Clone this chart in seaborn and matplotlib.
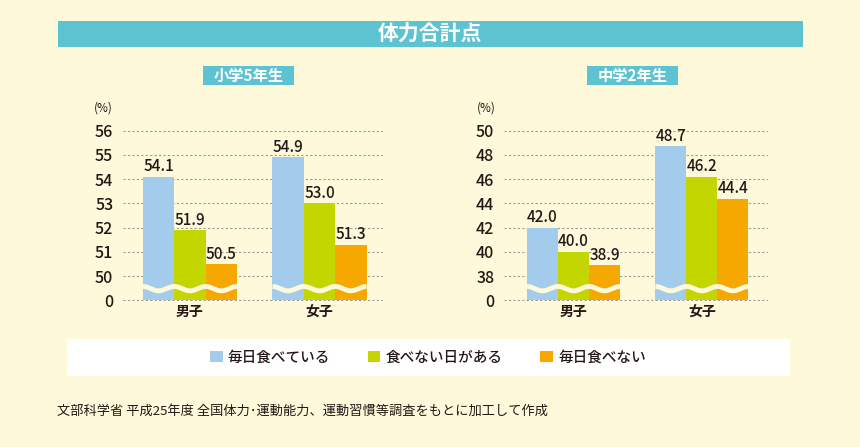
import numpy as np
import pandas as pd
import matplotlib
matplotlib.use("Agg")
import matplotlib.pyplot as plt
import seaborn as sns
from matplotlib.patches import Rectangle, Patch

# data
sexes = ['男子', '女子']
habits = ['毎日食べている', '食べない日がある', '毎日食べない']
colors = ['#A3CCEC', '#C4D600', '#F6A800']

elem_daily = [54.1, 54.9]
elem_some = [51.9, 53.0]
elem_never = [50.5, 51.3]
elem_ticks = [0, 50, 51, 52, 53, 54, 55, 56]

jhs_daily = [42.0, 48.7]
jhs_some = [40.0, 46.2]
jhs_never = [38.9, 44.4]
jhs_ticks = [0, 38, 40, 42, 44, 46, 48, 50]

bg = '#FFF9DB'
teal = '#5EC3D0'
ink = '#231815'

sns.set_theme(style='white')
plt.rcParams['font.family'] = ['Noto Sans CJK JP', 'DejaVu Sans']

fig = plt.figure(figsize=(8.6, 4.47), dpi=100, facecolor=bg)


def make_df(daily, some, never, ticks):
    rows = []
    for h, vals in zip(habits, [daily, some, never]):
        for s, v in zip(sexes, vals):
            # broken axis: every tick gets equal spacing
            pos = np.interp(v, ticks, np.arange(len(ticks)))
            rows.append({'sex': s, 'habit': h, 'value': v, 'pos': pos})
    return pd.DataFrame(rows)


def draw_panel(ax, df, ticks, xlim, width):
    ax.set_facecolor(bg)
    sns.barplot(data=df, x='sex', y='pos', hue='habit', order=sexes,
                hue_order=habits, palette=colors, width=width,
                saturation=1, linewidth=0, legend=False, ax=ax)
    for cont, h in zip(ax.containers, habits):
        labs = [f'{v:.1f}' for v in df[df.habit == h].set_index('sex').loc[sexes, 'value']]
        ax.bar_label(cont, labels=labs, padding=1, fontsize=11, color=ink,
                     fontweight='medium')
    ax.set_ylim(-0.03, 7.03)
    ax.set_xlim(*xlim)
    ax.set_yticks(range(len(ticks)))
    ax.set_yticklabels([str(t) for t in ticks])
    ax.grid(axis='y', ls=(0, (2, 2)), color='#9A9A9A', lw=0.8)
    ax.set_axisbelow(True)
    for sp in ax.spines.values():
        sp.set_visible(False)
    ax.tick_params(axis='y', length=0, pad=7, labelsize=11.5, labelcolor=ink)
    ax.tick_params(axis='x', length=0, pad=3, labelsize=10, labelcolor=ink)
    for lab in ax.get_xticklabels():
        lab.set_fontweight('bold')
    for lab in ax.get_yticklabels():
        lab.set_fontweight('medium')
    ax.set_xlabel('')
    ax.set_ylabel('')
    # white wavy break across each bar group
    for i in range(len(sexes)):
        ps = [p for p in ax.patches if abs(p.get_x() + p.get_width() / 2 - i) < 0.5]
        x0 = min(p.get_x() for p in ps)
        x1 = max(p.get_x() + p.get_width() for p in ps)
        xs = np.linspace(x0, x1, 300)
        ys = 0.48 + 0.09 * np.sin(2 * np.pi * 3 * (xs - x0) / (x1 - x0) + np.pi / 2)
        ax.plot(xs, ys, color=bg, lw=3.5, solid_capstyle='butt')


ax1 = fig.add_axes([123 / 860, 1 - 301 / 447, 260 / 860, 171 / 447])
draw_panel(ax1, make_df(elem_daily, elem_some, elem_never, elem_ticks),
           elem_ticks, (-0.517, 1.49), 0.726)

ax2 = fig.add_axes([504 / 860, 1 - 301 / 447, 264 / 860, 171 / 447])
draw_panel(ax2, make_df(jhs_daily, jhs_some, jhs_never, jhs_ticks),
           jhs_ticks, (-0.541, 1.514), 0.724)

# title bar
fig.add_artist(Rectangle((58 / 860, 1 - 47 / 447), 745 / 860, 26 / 447,
                         transform=fig.transFigure, color=teal, lw=0))
fig.text(430 / 860, 1 - 34 / 447, '体力合計点', color='white', fontsize=15,
         fontweight='bold', ha='center', va='center')

# panel headers
for x0, x1, name in [(203, 294, '小学5年生'), (587, 678, '中学2年生')]:
    fig.add_artist(Rectangle((x0 / 860, 1 - 85 / 447), (x1 - x0) / 860, 19 / 447,
                             transform=fig.transFigure, color=teal, lw=0))
    fig.text((x0 + x1) / 2 / 860, 1 - 75.5 / 447, name, color='white', fontsize=11,
             fontweight='bold', ha='center', va='center')

for x in [103, 486]:
    fig.text(x / 860, 1 - 108 / 447, '(%)', fontsize=8.5, ha='center', va='center',
             color=ink)

# legend box
fig.add_artist(Rectangle((67 / 860, 1 - 376 / 447), 723 / 860, 37 / 447,
                         transform=fig.transFigure, color='white', lw=0))
handles = [Patch(facecolor=c, edgecolor='none', label=h) for c, h in zip(colors, habits)]
fig.legend(handles=handles, loc='center', bbox_to_anchor=(428 / 860, 1 - 357.5 / 447),
           ncol=3, frameon=False, fontsize=10.5, handlelength=0.85, handleheight=0.85,
           handletextpad=0.35, columnspacing=2.6, labelcolor=ink,
           prop={'size': 10.5, 'weight': 'medium'})

fig.text(57 / 860, 1 - 411 / 447,
         '文部科学省 平成25年度 全国体力･運動能力、運動習慣等調査をもとに加工して作成',
         fontsize=9.5, ha='left', va='center', color=ink)

fig.savefig('out.png', dpi=100, facecolor=bg)
